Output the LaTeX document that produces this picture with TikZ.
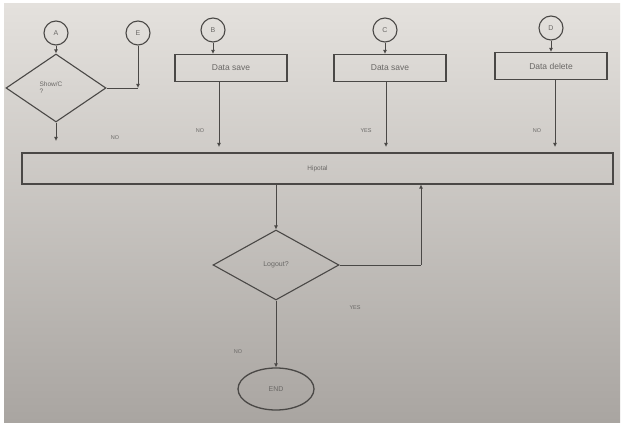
\documentclass[tikz,border=0pt]{standalone}
\usepackage{fontspec}
\setmainfont{Liberation Sans}
\usetikzlibrary{shapes.geometric,arrows.meta,calc}
\definecolor{ink}{HTML}{4A4846}
\definecolor{txt}{HTML}{6A6866}
\definecolor{papertop}{HTML}{E4E1DD}
\definecolor{paperbot}{HTML}{A9A5A1}
\tikzset{
  conn/.style={draw=ink, line width=0.9pt, -{Latex[length=4pt,width=4pt]}},
  plain/.style={draw=ink, line width=0.9pt},
  term/.style={circle, draw=ink, line width=1.1pt, minimum size=24pt, inner sep=0pt, font=\fontsize{7}{8}\selectfont, text=txt},
  proc/.style={rectangle, draw=ink, line width=1.1pt, minimum width=112pt, minimum height=27pt, inner sep=2pt, font=\fontsize{8.5}{9}\selectfont, text=txt},
  decide/.style={diamond, draw=ink, line width=1.1pt, aspect=1.45, inner sep=0pt, font=\fontsize{7}{8}\selectfont, text=txt},
  lbl/.style={font=\fontsize{5.5}{6}\selectfont, text=txt}
}
\begin{document}
\begin{tikzpicture}[x=1pt,y=-1pt]
\useasboundingbox (0,0) rectangle (623,427);
\fill[white] (0,0) rectangle (623,427);
\shade[top color=papertop, bottom color=paperbot] (4,4) rectangle (620,422);

% entry connectors
\node[term] (A) at (56,33) {A};
\node[term] (E) at (138,33) {E};
\node[term] (B) at (213,30) {B};
\node[term] (C) at (385,30) {C};
\node[term] (D) at (551,28) {D};

% first decision
\node[decide, minimum width=100pt, minimum height=68pt] (show) at (56,88) {};
\node[font=\fontsize{6.5}{7}\selectfont, text=txt, align=left] (showtxt) at (51,88) {Show/C\\?};

% processing boxes
\node[proc] (save1) at (231,68) {Data save\hspace{30pt}};
\node[proc] (save2) at (390,68) {Data save\hspace{30pt}};
\node[proc] (del)   at (551,66) {Data delete\hspace{20pt}};

% main bar
\node[rectangle, draw=ink, line width=1.1pt, minimum width=591pt, minimum height=31pt, font=\fontsize{6.5}{7}\selectfont, text=txt] (bar) at (317.5,168.5) {Hipotal};

% logout decision and end
\node[decide, minimum width=126pt, minimum height=70pt] (logout) at (276,265) {Logout?};
\node[ellipse, draw=ink, line width=1.3pt, minimum width=76pt, minimum height=42pt, font=\fontsize{7}{8}\selectfont, text=txt] (end) at (276,389) {END};

\coordinate (join) at (138,88);
\coordinate (showout) at (56,141);
\coordinate (back) at (421,265);

% connectors
\draw[conn] (A) -- (show.north);
\draw[conn] (E) -- (join);
\draw[plain] (show.east) -- (join);
\draw[conn] (show.south) -- (showout);
\draw[conn] (B) -- (save1.north -| B);
\draw[conn] (C) -- (save2.north -| C);
\draw[conn] (D) -- (del.north -| D);
\draw[conn] (save1.south -| 219,0) -- (219,147);
\draw[conn] (save2.south -| 386,0) -- (386,147);
\draw[conn] (del.south -| 555,0) -- (555,147);
\draw[conn] (bar.south -| 276,0) -- (logout.north);
\draw[plain] (logout.east) -- (back);
\draw[conn] (back) -- (bar.south -| back);
\draw[conn] (logout.south) -- (end.north);

% branch labels
\node[lbl] (l1) at (115,138) {NO};
\node[lbl] (l2) at (200,131) {NO};
\node[lbl] (l3) at (366,131) {YES};
\node[lbl] (l4) at (537,131) {NO};
\node[lbl] (l5) at (355,308) {YES};
\node[lbl] (l6) at (238,352) {NO};
\end{tikzpicture}
\end{document}
